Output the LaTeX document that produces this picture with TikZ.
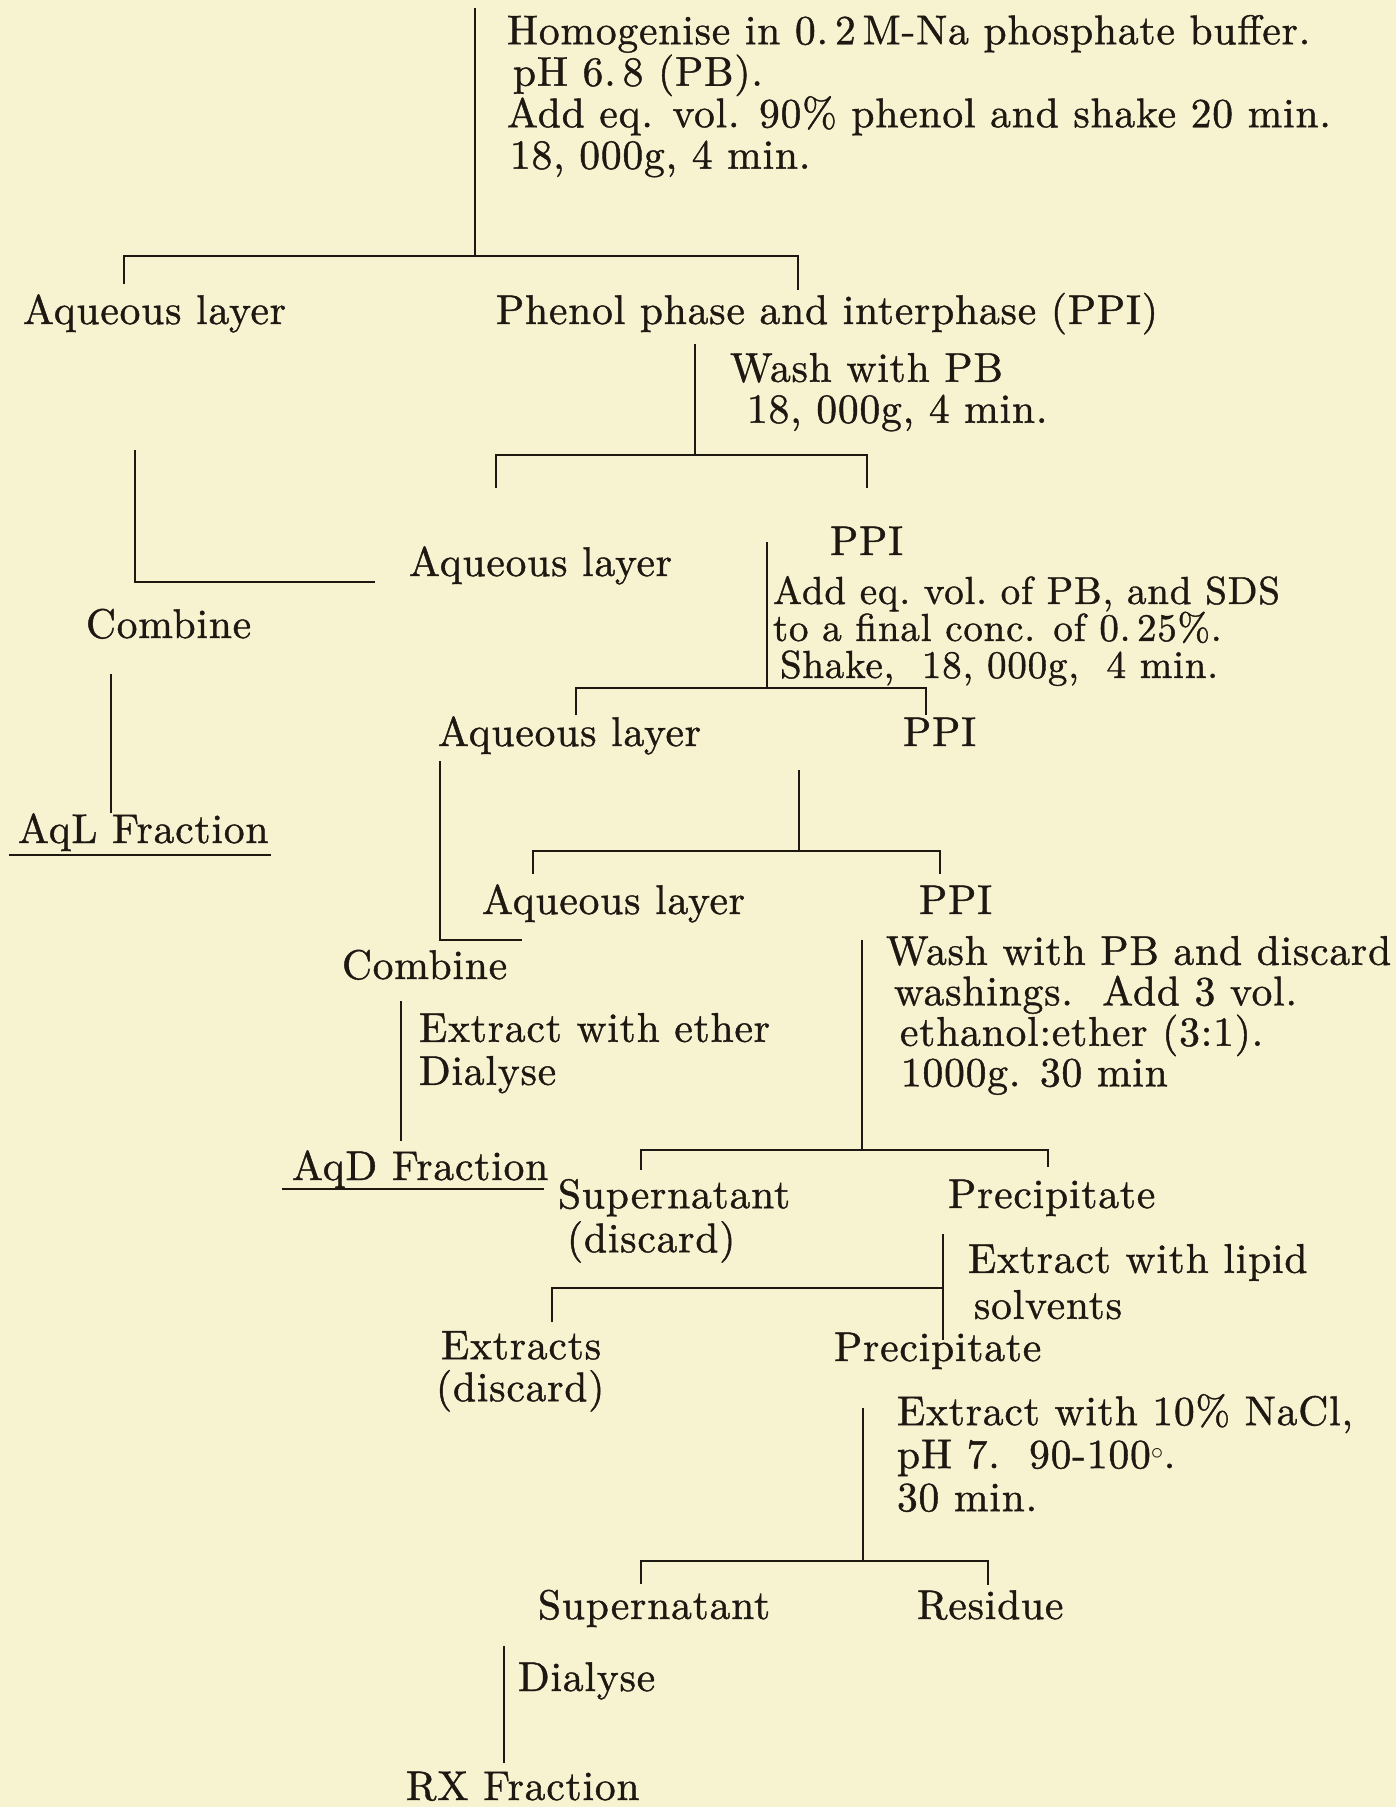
\documentclass[tikz,border=0pt]{standalone}
\usepackage{xcolor}
\usepackage{fontspec}
\setmainfont{lmroman10-regular.otf}[LetterSpace=2,FakeBold=1]
\definecolor{paper}{RGB}{247,243,209}
\definecolor{ink}{RGB}{30,24,18}
\setlength{\lineskiplimit}{-100pt}
\setlength{\lineskip}{0pt}
\begin{document}
\begin{tikzpicture}[x=1pt,y=-1pt,
  every node/.style={inner sep=0pt,outer sep=0pt,text=ink},
  lbl/.style={anchor=base west,font=\fontsize{41.5}{41.5}\selectfont},
  blk/.style={anchor=north west,align=left,font=\fontsize{41.5}{#1}\selectfont},
  blks/.style={anchor=north west,align=left,font=\fontsize{39}{#1}\selectfont},
  ln/.style={draw=ink,line width=2pt}]
\fill[paper] (0,0) rectangle (1396,1807);
\useasboundingbox (0,0) rectangle (1396,1807);

% ---- texts ----
\node[blk=41.5] (b1) at (507,15) {Homogenise in 0.\,2\,M-Na phosphate buffer.\\\hspace*{6pt}pH 6.\,8 (PB).\\Add eq. vol. 90\% phenol and shake 20 min.\\\hspace*{3pt}18, 000g, 4 min.};
\node[lbl] (aq1) at (23,324) {Aqueous layer};
\node[lbl] (ppi1) at (496,324) {Phenol phase and interphase (PPI)};
\node[blk=41] (b2) at (730,353) {Wash with PB\\\hspace*{17pt}18, 000g, 4 min.};
\node[lbl] (aq2) at (409,576) {Aqueous layer};
\node[lbl] (ppi2) at (830,555) {PPI};
\node[blks=37] (b3) at (773,576) {Add eq.\ vol.\ of PB, and SDS\\to a final conc. of 0.\,25\%.\\\hspace*{7pt}Shake,\ \ 18, 000g,\ \ 4 min.};
\node[lbl] (comb1) at (86,638) {Combine};
\node[lbl] (aql) at (18,843) {AqL Fraction};
\node[lbl] (aq3) at (438,746) {Aqueous layer};
\node[lbl] (ppi3) at (903,746) {PPI};
\node[lbl] (aq4) at (482,914) {Aqueous layer};
\node[lbl] (ppi4) at (919,914) {PPI};
\node[blk=40.5] (b4) at (886,936) {Wash with PB and discard\\\hspace*{8pt}washings.\ \ Add 3 vol.\\\hspace*{14pt}ethanol:ether (3:1).\\\hspace*{15pt}1000g. 30 min};
\node[lbl] (comb2) at (342,979) {Combine};
\node[blk=43] (b7) at (419,1013) {Extract with ether\\Dialyse};
\node[lbl] (aqd) at (292,1180) {AqD Fraction};
\node[blk=44] (sup1) at (558,1179) {Supernatant\\\hspace*{9pt}(discard)};
\node[lbl] (prec1) at (948,1208) {Precipitate};
\node[blk=46] (b6) at (968,1244) {Extract with lipid\\\hspace*{6pt}solvents};
\node[blk=42] (extr) at (436,1331) {\hspace*{5pt}Extracts\\(discard)};
\node[lbl] (prec2) at (834,1361) {Precipitate};
\node[blk=43] (b5) at (897,1394) {Extract with 10\% NaCl,\\pH 7.\ \ 90-100$^{\circ}$.\\30 min.};
\node[lbl] (sup2) at (538,1619) {Supernatant};
\node[lbl] (res) at (917,1619) {Residue};
\node[lbl] (dial) at (518,1691) {Dialyse};
\node[lbl] (rx) at (406,1800) {RX Fraction};

% ---- connector coordinates ----
\coordinate (t0) at (475,8);   \coordinate (t1) at (475,256);
\coordinate (h1a) at (124,284); \coordinate (h1b) at (124,256);
\coordinate (h1c) at (798,256); \coordinate (h1d) at (798,290);
\coordinate (p0) at (695,344); \coordinate (p1) at (695,455);
\coordinate (h2a) at (496,488); \coordinate (h2b) at (496,455);
\coordinate (h2c) at (867,455); \coordinate (h2d) at (867,488);
\coordinate (l5a) at (135,450); \coordinate (l5b) at (135,582); \coordinate (l5c) at (375,582);
\coordinate (q0) at (767,542); \coordinate (q1) at (767,688);
\coordinate (h3a) at (576,715); \coordinate (h3b) at (576,688);
\coordinate (h3c) at (926,688); \coordinate (h3d) at (926,715);
\coordinate (c1a) at (111,674); \coordinate (c1b) at (111,813);
\coordinate (u1a) at (9,855); \coordinate (u1b) at (271,855);
\coordinate (r0) at (799,770); \coordinate (r1) at (799,851);
\coordinate (h4a) at (533,874); \coordinate (h4b) at (533,851);
\coordinate (h4c) at (940,851); \coordinate (h4d) at (940,874);
\coordinate (l11a) at (440,761); \coordinate (l11b) at (440,940); \coordinate (l11c) at (522,940);
\coordinate (e0) at (401,1001); \coordinate (e1) at (401,1141);
\coordinate (u2a) at (282,1189); \coordinate (u2b) at (544,1189);
\coordinate (w0) at (862,940); \coordinate (w1) at (862,1150);
\coordinate (h5a) at (641,1170); \coordinate (h5b) at (641,1150);
\coordinate (h5c) at (1048,1150); \coordinate (h5d) at (1048,1167);
\coordinate (x0) at (943,1234); \coordinate (x1) at (943,1340);
\coordinate (h6a) at (552,1322); \coordinate (h6b) at (552,1288); \coordinate (h6c) at (943,1288);
\coordinate (n0) at (863,1408); \coordinate (n1) at (863,1561);
\coordinate (h7a) at (641,1584); \coordinate (h7b) at (641,1561);
\coordinate (h7c) at (988,1561); \coordinate (h7d) at (988,1585);
\coordinate (d0) at (504,1646); \coordinate (d1) at (504,1763);

% ---- connectors ----
\draw[ln] (t0) -- (t1);
\draw[ln] (h1a) -- (h1b) -- (h1c) -- (h1d);
\draw[ln] (p0) -- (p1);
\draw[ln] (h2a) -- (h2b) -- (h2c) -- (h2d);
\draw[ln] (l5a) -- (l5b) -- (l5c);
\draw[ln] (q0) -- (q1);
\draw[ln] (h3a) -- (h3b) -- (h3c) -- (h3d);
\draw[ln] (c1a) -- (c1b);
\draw[ln] (u1a) -- (u1b);
\draw[ln] (r0) -- (r1);
\draw[ln] (h4a) -- (h4b) -- (h4c) -- (h4d);
\draw[ln] (l11a) -- (l11b) -- (l11c);
\draw[ln] (e0) -- (e1);
\draw[ln] (u2a) -- (u2b);
\draw[ln] (w0) -- (w1);
\draw[ln] (h5a) -- (h5b) -- (h5c) -- (h5d);
\draw[ln] (x0) -- (x1);
\draw[ln] (h6a) -- (h6b) -- (h6c);
\draw[ln] (n0) -- (n1);
\draw[ln] (h7a) -- (h7b) -- (h7c) -- (h7d);
\draw[ln] (d0) -- (d1);
\end{tikzpicture}
\end{document}
